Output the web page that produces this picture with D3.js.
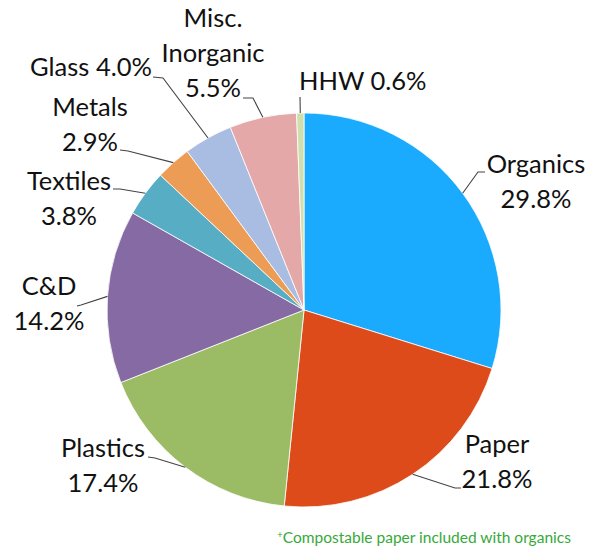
<!DOCTYPE html>
<html lang="en">
<head>
    <meta charset="UTF-8">
    <title>Waste Composition</title>
    <style>
        body {
            margin: 0;
            background-color: white;
        }
        svg {
            display: block;
        }
        .lbl {
            font-family: 'Lato', sans-serif;
            font-size: 25.5px;
            fill: #111;
        }
        .note {
            font-family: 'Lato', sans-serif;
            font-size: 15.5px;
            fill: #36a93a;
        }
    </style>
</head>
<body>
    <div id="chart"></div>

    <script src="https://cdn.jsdelivr.net/npm/d3@7"></script>

    <script>
        // data, clockwise from 12 o'clock
        var categories = ["Organics", "Paper", "Plastics", "C&D", "Textiles", "Metals", "Glass", "Misc. Inorganic", "HHW"];
        var shares = [29.8, 21.8, 17.4, 14.2, 3.8, 2.9, 4.0, 5.5, 0.6];
        var sliceColors = ["#1aabff", "#dd4b1a", "#9bbb64", "#866aa3", "#57adc4", "#ed9c56", "#a9bde2", "#e4a8a8", "#cfe0ae"];

        // label placement (hand tuned, like the original)
        // lines: text rows, x/y: anchor of first row, elbow: knee of the leader, tail: leader end near text
        var labelLayout = [
            {lines: ["Organics", "29.8%"], x: 536, y: 173, anchor: "middle", elbow: [478, 172], tail: [485, 172]},
            {lines: ["Paper", "21.8%"], x: 497, y: 453, anchor: "middle", elbow: [455, 488], tail: [461, 488]},
            {lines: ["Plastics", "17.4%"], x: 103, y: 457, anchor: "middle", elbow: [155, 458], tail: [148, 457]},
            {lines: ["C&D", "14.2%"], x: 49, y: 295, anchor: "middle", elbow: [81, 305], tail: [77, 306]},
            {lines: ["Textiles", "3.8%"], x: 69, y: 190, anchor: "middle", elbow: [120, 189], tail: [113, 189]},
            {lines: ["Metals", "2.9%"], x: 90, y: 116, anchor: "middle", elbow: [128, 151], tail: [120, 150]},
            {lines: ["Glass 4.0%"], x: 91, y: 76, anchor: "middle", elbow: [163, 78], tail: [153, 77]},
            {lines: ["Misc.", "Inorganic", "5.5%"], x: 213, y: 27, anchor: "middle", elbow: [253, 98], tail: [243, 98]},
            {lines: ["HHW 0.6%"], x: 299, y: 90, anchor: "start", elbow: [300, 97], tail: [300, 97]}
        ];

        var w = 590;
        var h = 549;
        var cx = 304, cy = 310, r = 197;
        var lineGap = 35;

        var svg = d3.select("#chart")
            .append("svg")
            .attr("width", w)
            .attr("height", h);

        var color = d3.scaleOrdinal()
            .domain(categories)
            .range(sliceColors);

        var pie = d3.pie()
            .value(function(d) { return d; })
            .sort(null);

        var arcs = pie(shares);

        var arc = d3.arc()
            .innerRadius(0)
            .outerRadius(r);

        // point on the rim at the middle of a slice
        var rim = d3.arc()
            .innerRadius(r)
            .outerRadius(r);

        var g = svg.append("g")
            .attr("transform", "translate(" + cx + "," + cy + ")");

        g.selectAll("path")
            .data(arcs)
            .enter()
            .append("path")
            .attr("d", arc)
            .attr("fill", function(d, i) { return color(categories[i]); })
            .attr("stroke", "white")
            .attr("stroke-width", 0.8);

        // leader lines
        svg.selectAll("polyline.leader")
            .data(arcs)
            .enter()
            .append("polyline")
            .attr("class", "leader")
            .attr("fill", "none")
            .attr("stroke", "#444")
            .attr("stroke-width", 1.1)
            .attr("points", function(d, i) {
                var c = rim.centroid(d);
                var L = labelLayout[i];
                return [[c[0] + cx, c[1] + cy], L.elbow, L.tail].join(" ");
            });

        // labels
        labelLayout.forEach(function(L) {
            var t = svg.append("text")
                .attr("class", "lbl")
                .attr("text-anchor", L.anchor);
            L.lines.forEach(function(s, k) {
                t.append("tspan")
                    .attr("x", L.x)
                    .attr("y", L.y + k * lineGap)
                    .text(s);
            });
        });

        // footnote
        var note = svg.append("text")
            .attr("class", "note")
            .attr("x", 277)
            .attr("y", 543);
        note.append("tspan")
            .attr("font-size", "10px")
            .attr("dy", -5)
            .text("+");
        note.append("tspan")
            .attr("dy", 5)
            .text("Compostable paper included with organics");
    </script>
</body>
</html>
